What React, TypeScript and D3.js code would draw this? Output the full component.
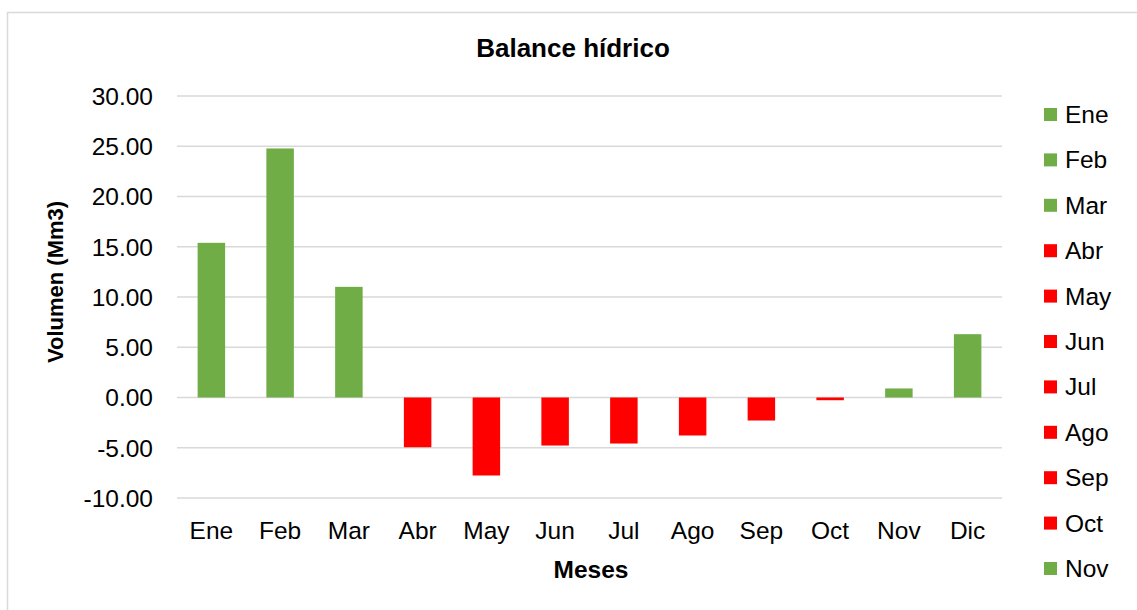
import React from "react";
import * as d3 from "d3";

const months = ["Ene", "Feb", "Mar", "Abr", "May", "Jun", "Jul", "Ago", "Sep", "Oct", "Nov", "Dic"];
const values = [15.39, 24.78, 11.01, -4.95, -7.76, -4.78, -4.58, -3.78, -2.29, -0.27, 0.9, 6.3];
const yTicks = [-10, -5, 0, 5, 10, 15, 20, 25, 30];
const legendMonths = months.slice(0, 11);

const GREEN = "#70AD47";
const RED = "#FF0000";
const GRID = "#D9D9D9";
const FONT = "'Liberation Sans', Arial, sans-serif";

export default function App() {
  const W = 1137, H = 610;
  const x = d3.scaleBand<string>().domain(months).range([177, 1002]).paddingInner(0.6).paddingOuter(0.3);
  const y = d3.scaleLinear().domain([-10, 30]).range([498, 96]);
  const color = (v: number) => (v >= 0 ? GREEN : RED);

  return (
    <svg width={W} height={H} style={{ position: "absolute", left: 0, top: 0, background: "#fff" }} fontFamily={FONT}>
      <rect x={7.5} y={12.5} width={1140} height={620} fill="#fff" stroke={GRID} strokeWidth={1.5} />
      <text x={573} y={57} textAnchor="middle" fontSize={26} fontWeight="bold" fill="#000">Balance hídrico</text>
      {yTicks.map((t) => (
        <g key={t}>
          <line x1={177} x2={1002} y1={y(t)} y2={y(t)} stroke={GRID} strokeWidth={1.5} />
          <text x={153} y={y(t)} dy="0.36em" textAnchor="end" fontSize={24.5} fill="#000">{t.toFixed(2)}</text>
        </g>
      ))}
      {values.map((v, i) => (
        <rect key={months[i]} x={x(months[i])} width={x.bandwidth()} y={Math.min(y(v), y(0))} height={Math.abs(y(v) - y(0))} fill={color(v)} />
      ))}
      {months.map((m) => (
        <text key={m} x={(x(m) as number) + x.bandwidth() / 2} y={539} textAnchor="middle" fontSize={24.5} fill="#000">{m}</text>
      ))}
      <text x={591} y={578} textAnchor="middle" fontSize={24.5} fontWeight="bold" fill="#000">Meses</text>
      <text transform="translate(63,282) rotate(-90)" textAnchor="middle" fontSize={22} fontWeight="bold" fill="#000">Volumen (Mm3)</text>
      {legendMonths.map((m, i) => (
        <g key={"lg" + m} transform={`translate(1044,${123 + i * 45.4})`}>
          <rect x={0} y={-15} width={13} height={13} fill={color(values[i])} />
          <text x={21} y={0} fontSize={24.5} fill="#000">{m}</text>
        </g>
      ))}
    </svg>
  );
}
